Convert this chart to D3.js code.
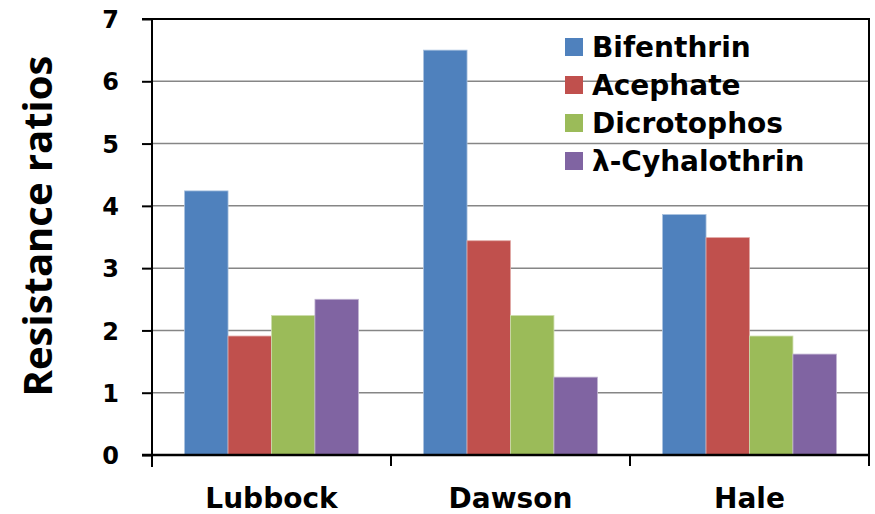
<!DOCTYPE html>
<html>
<head>
<meta charset="utf-8">
<script src="https://cdn.jsdelivr.net/npm/d3@7"></script>
<style>
  html, body { margin: 0; padding: 0; background: #fff; }
  svg { display: block; }
</style>
</head>
<body>
<div id="chart"></div>
<script>
// values
const sites = ["Lubbock", "Dawson", "Hale"]
const insecticides = ["Bifenthrin", "Acephate", "Dicrotophos", "λ-Cyhalothrin"]
const bifenthrin = [4.24, 6.50, 3.86]
const acephate = [1.91, 3.44, 3.49]
const dicrotophos = [2.24, 2.24, 1.91]
const cyhalothrin = [2.50, 1.25, 1.62]
const yTicks = [0, 1, 2, 3, 4, 5, 6, 7]
const colors = ["#4F81BD", "#C0504D", "#9BBB59", "#8064A2"]
const edges = ["#A7C0DE", "#E0A8A6", "#CDDDAC", "#BFB1D0"]

const seriesValues = [bifenthrin, acephate, dicrotophos, cyhalothrin]

const width = 875
const height = 514
const margin = [19, 6, 59, 152] // top right bottom left

const svg = d3.create("svg")
  .attr("width", width)
  .attr("height", height)
  .attr("viewBox", [0, 0, width, height])

const x0 = d3.scaleBand()
  .domain(sites)
  .range([margin[3], width - margin[1]])
  .paddingInner(0)
  .paddingOuter(0)

// excel style gap width 150% -> 0.75 step each side
const x1 = d3.scaleBand()
  .domain(insecticides)
  .range([0, x0.bandwidth()])
  .paddingInner(0)
  .paddingOuter(0.75)

const y = d3.scaleLinear()
  .domain([0, 7])
  .range([height - margin[2], margin[0]])

// gridlines
svg.append("g")
  .selectAll("line")
  .data(yTicks.filter(d => d > 0 && d < 7))
  .join("line")
  .attr("x1", margin[3])
  .attr("x2", width - margin[1])
  .attr("y1", d => y(d))
  .attr("y2", d => y(d))
  .attr("stroke", "#868686")
  .attr("stroke-width", 1.5)

// bars
const rows = sites.map((s, i) => ({ site: s, vals: insecticides.map((k, j) => ({ key: k, j, v: seriesValues[j][i] })) }))

svg.append("g")
  .selectAll("g")
  .data(rows)
  .join("g")
  .attr("transform", d => `translate(${x0(d.site)},0)`)
  .selectAll("rect")
  .data(d => d.vals)
  .join("rect")
  .attr("x", d => x1(d.key))
  .attr("y", d => y(d.v))
  .attr("width", x1.bandwidth())
  .attr("height", d => y(0) - y(d.v))
  .attr("fill", d => colors[d.j])
  .attr("stroke", d => edges[d.j])
  .attr("stroke-width", 0.8)

// plot border top + right
svg.append("path")
  .attr("d", `M${margin[3] - 10},${y(7)}H${width - margin[1]}V${y(0)}`)
  .attr("fill", "none")
  .attr("stroke", "#000")
  .attr("stroke-width", 2)

// y axis
const yAxis = d3.axisLeft(y).tickValues(yTicks).tickSize(10).tickPadding(23).tickFormat(d3.format("d"))
svg.append("g")
  .attr("transform", `translate(${margin[3]},0)`)
  .call(yAxis)
  .call(g => g.select(".domain").attr("stroke-width", 2).attr("d", `M0,${y(7)}V${y(0) + 12}`))
  .call(g => g.selectAll(".tick line").attr("stroke-width", 2))
  .call(g => g.selectAll(".tick text")
    .attr("font-family", "DejaVu Sans")
    .attr("font-weight", "bold")
    .attr("font-size", 24)
    .attr("fill", "#000")
    .attr("dy", "0.36em"))

// x axis: ticks at band boundaries
svg.append("g")
  .attr("transform", `translate(0,${y(0)})`)
  .call(g => g.append("line")
    .attr("x1", margin[3] - 10)
    .attr("x2", width - margin[1])
    .attr("stroke", "#000")
    .attr("stroke-width", 2.5))
  .call(g => g.selectAll(".bound")
    .data(sites.map(s => x0(s)).slice(1).concat([x0.range()[1]]))
    .join("line")
    .attr("class", "bound")
    .attr("x1", d => d)
    .attr("x2", d => d)
    .attr("y1", 0)
    .attr("y2", 11)
    .attr("stroke", "#000")
    .attr("stroke-width", 2))
  .call(g => g.selectAll("text")
    .data(sites)
    .join("text")
    .attr("x", d => x0(d) + x0.bandwidth() / 2)
    .attr("y", 53)
    .attr("text-anchor", "middle")
    .attr("font-family", "DejaVu Sans")
    .attr("font-weight", "bold")
    .attr("font-size", 28)
    .text(d => d))

// y title
svg.append("text")
  .attr("transform", "translate(52,226) rotate(-90)")
  .attr("text-anchor", "middle")
  .attr("font-family", "Open Sans")
  .attr("font-weight", "bold")
  .attr("font-size", 40)
  .text("Resistance ratios")

// legend
const legend = svg.append("g")
  .attr("transform", "translate(565,47)")
  .selectAll("g")
  .data(insecticides)
  .join("g")
  .attr("transform", (d, i) => `translate(0,${i * 38})`)

legend.append("rect")
  .attr("x", 0)
  .attr("y", -9)
  .attr("width", 18)
  .attr("height", 18)
  .attr("fill", (d, i) => colors[i])

legend.append("text")
  .attr("x", 27)
  .attr("y", 0)
  .attr("dy", "0.36em")
  .attr("font-family", "DejaVu Sans")
  .attr("font-weight", "bold")
  .attr("font-size", 28)
  .text(d => d)

document.querySelector("#chart").append(svg.node())
</script>
</body>
</html>
